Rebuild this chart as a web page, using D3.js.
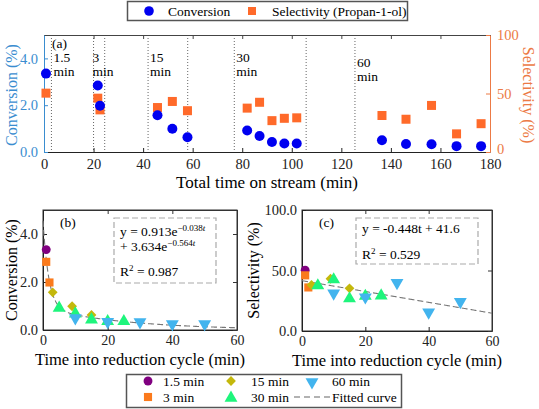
<!DOCTYPE html>
<html><head><meta charset="utf-8">
<script src="https://cdn.jsdelivr.net/npm/d3@7"></script>
<style>
body{margin:0;background:#fff;}
svg text{font-family:"Liberation Serif","DejaVu Serif","Noto Serif",serif !important;}
</style></head>
<body><svg id="c" width="539" height="409"></svg>
<script>
// ---------- data ----------
const cycles = ["1.5 min","3 min","15 min","30 min","60 min"];
const pointCycle = [0,1,1,2,2,2,3,3,3,3,3,4,4,4,4,4];
const totalTime = [0.8,21.7,22.6,45.8,51.8,57.9,82,87,92,97,102,136.4,146.1,156.4,166.5,176.4];
const cycleTime = [1,1,2,3,9,15,5,10,15,20,25,10,20,30,40,50];
const conversion = [3.35,2.84,1.98,1.57,0.99,0.63,0.92,0.68,0.43,0.36,0.36,0.50,0.34,0.33,0.25,0.25];
const selectivity = [50.3,46,36,38,43.2,35.3,37.5,42.5,26.8,28.8,29.2,31.2,28,39.8,15.5,24.2];
const cycleBoundaries = [3,20,24.5,42,58,76.8,105.8,125.5];
const cycleLabels = ["1.5","3","15","30","60"];
const cycleLabelX = [3,20,42,76.8,125.5];
const fitB = {a:0.913,b:-0.038,c:3.634,d:-0.564,r2:"0.987"};
const fitC = {m:-0.448,q:41.6,r2:"0.529"};
const xTicksA = [0,20,40,60,80,100,120,140,160,180];
const xTicksB = [0,20,40,60];

const cycleColors = ["#800080","#fb7a1c","#c4b80c","#1ef57c","#42b4ee"];
const blue = "#0000f0", orange = "#ff6a2a", axBlue = "#3a8dd0", axOrange = "#ec7a45";

const svg = d3.select("#c");

// ---------- panel (a) ----------
const xA = d3.scaleLinear([0,180],[44,490]);
const yA = d3.scaleLinear([0,5],[152,35]);
const yS = d3.scaleLinear([0,100],[152,35]);

function styleAxis(g, col, fs){
  g.attr("font-family",null);
  g.selectAll("text").attr("font-size",fs).attr("fill",col);
  g.selectAll("line").attr("stroke",col);
  g.select(".domain").attr("stroke",col);
}

// dotted lines
svg.append("g").selectAll("line").data(cycleBoundaries).join("line")
  .attr("x1",d=>xA(d)).attr("x2",d=>xA(d)).attr("y1",35).attr("y2",152)
  .attr("stroke","#666").attr("stroke-width",1).attr("stroke-dasharray","1,2");

let g = svg.append("g").attr("transform","translate(0,152)")
  .call(d3.axisBottom(xA).tickValues(xTicksA).tickSize(-4).tickSizeOuter(0).tickPadding(7));
styleAxis(g,"#222",14.5);
g = svg.append("g").attr("transform","translate(0,35)")
  .call(d3.axisTop(xA).tickValues(xTicksA).tickSize(-4).tickSizeOuter(0).tickFormat(""));
styleAxis(g,"#444",14);
g = svg.append("g").attr("transform","translate(44,0)")
  .call(d3.axisLeft(yA).tickValues([0,2,4]).tickFormat(d3.format(".1f")).tickSize(-4).tickSizeOuter(0).tickPadding(6));
styleAxis(g,axBlue,14.5);
g = svg.append("g").attr("transform","translate(490,0)")
  .call(d3.axisRight(yS).tickValues([0,50,100]).tickSize(-4).tickSizeOuter(0).tickPadding(7));
styleAxis(g,axOrange,14.5);
g.selectAll(".tick text").filter(d=>d===0).attr("dy","0.1em");

// cycle labels
cycleLabels.forEach((l,i)=>{
  const x = xA(cycleLabelX[i]) + (i===1? -1 : 2);
  const y0 = i===4 ? 67 : 62;
  svg.append("text").attr("x",x).attr("y",y0).attr("font-size",13.5).text(l);
  svg.append("text").attr("x",x).attr("y",y0+14).attr("font-size",13.5).text("min");
});
svg.append("text").attr("x",52).attr("y",48).attr("font-size",13.5).text("(a)");

const idx = d3.range(totalTime.length);
svg.append("g").selectAll("rect").data(idx).join("rect")
  .attr("x",i=>xA(totalTime[i])-4.5).attr("y",i=>yS(selectivity[i])-4.5)
  .attr("width",9).attr("height",9).attr("fill",orange);
svg.append("g").selectAll("circle").data(idx).join("circle")
  .attr("cx",i=>xA(totalTime[i])).attr("cy",i=>yA(conversion[i])).attr("r",5).attr("fill",blue);

svg.append("text").attr("x",267).attr("y",188).attr("text-anchor","middle").attr("font-size",17)
  .text("Total time on stream (min)");
svg.append("text").attr("transform","translate(17,95) rotate(-90)").attr("text-anchor","middle")
  .attr("font-size",16).attr("fill",axBlue).text("Conversion (%)");
svg.append("text").attr("transform","translate(523,95) rotate(90)").attr("text-anchor","middle")
  .attr("font-size",16).attr("fill",axOrange).text("Selectivity (%)");

// top legend
svg.append("rect").attr("x",127.5).attr("y",1.5).attr("width",280).attr("height",19)
  .attr("fill","#fff").attr("stroke","#555").attr("stroke-width",1.5);
svg.append("circle").attr("cx",149).attr("cy",11).attr("r",4.8).attr("fill",blue);
svg.append("text").attr("x",168).attr("y",15.5).attr("font-size",13.5).text("Conversion");
svg.append("rect").attr("x",248).attr("y",7).attr("width",8).attr("height",8).attr("fill",orange);
svg.append("text").attr("x",272).attr("y",15.5).attr("font-size",13.5).text("Selectivity (Propan-1-ol)");

// ---------- marker helper ----------
function sym(i){
  const types=[d3.symbolCircle,d3.symbolSquare,d3.symbolSquare,d3.symbolTriangle,d3.symbolTriangle];
  const sizes=[62,66,48,72,72];
  return d3.symbol().type(types[i]).size(sizes[i])();
}
function rot(i){ return i===2?45:(i===4?180:0); }

// ---------- panel (b) & (c) ----------
function panel(opts){
  const x = d3.scaleLinear([0,60],[opts.x0,opts.x1]);
  const y = d3.scaleLinear(opts.ydom,[opts.y1,opts.y0]);
  const gg = svg.append("g");
  gg.append("rect").attr("x",opts.x0).attr("y",opts.y0).attr("width",opts.x1-opts.x0).attr("height",opts.y1-opts.y0)
    .attr("fill","none").attr("stroke","#333").attr("stroke-width",1);
  let a = gg.append("g").attr("transform",`translate(0,${opts.y1})`)
    .call(d3.axisBottom(x).tickValues(xTicksB).tickSize(-4).tickSizeOuter(0).tickPadding(5));
  styleAxis(a,"#222",14);
  a = gg.append("g").attr("transform",`translate(0,${opts.y0})`)
    .call(d3.axisTop(x).tickValues(xTicksB).tickSize(-4).tickSizeOuter(0).tickFormat(""));
  styleAxis(a,"#333",14);
  a = gg.append("g").attr("transform",`translate(${opts.x0},0)`)
    .call(d3.axisLeft(y).tickValues(opts.yt).tickFormat(d3.format(".1f")).tickSize(-4).tickSizeOuter(0).tickPadding(5));
  styleAxis(a,"#222",14.5);
  a = gg.append("g").attr("transform",`translate(${opts.x1},0)`)
    .call(d3.axisRight(y).tickValues(opts.yt).tickSize(-4).tickSizeOuter(0).tickFormat(""));
  styleAxis(a,"#333",14);
  // fitted curve
  const ts = d3.range(0,60.01,0.25);
  gg.append("path").datum(ts).attr("fill","none").attr("stroke","#777").attr("stroke-width",1.1)
    .attr("stroke-dasharray","6,3")
    .attr("d",d3.line().x(t=>x(t)).y(t=>y(opts.fit(t))));
  // markers
  gg.append("g").selectAll("path").data(idx).join("path")
    .attr("d",i=>sym(pointCycle[i]))
    .attr("transform",i=>`translate(${x(cycleTime[i])},${y(opts.val[i])}) rotate(${rot(pointCycle[i])})`)
    .attr("fill",i=>cycleColors[pointCycle[i]]);
  gg.append("text").attr("x",opts.x0+17).attr("y",opts.y0+17).attr("font-size",13.5).text(opts.tag);
  gg.append("text").attr("x",(opts.x0+opts.x1)/2).attr("y",opts.y1+35).attr("text-anchor","middle")
    .attr("font-size",16.5).text("Time into reduction cycle (min)");
  gg.append("text").attr("transform",`translate(${opts.ylx},${(opts.y0+opts.y1)/2}) rotate(-90)`)
    .attr("text-anchor","middle").attr("font-size",16).text(opts.ylab);
  return gg;
}

const gb = panel({x0:43,x1:237,y0:210,y1:330,ydom:[0,5],yt:[0,2,4],val:conversion,tag:"(b)",
  ylab:"Conversion (%)",ylx:17,fit:t=>fitB.a*Math.exp(fitB.b*t)+fitB.c*Math.exp(fitB.d*t)});
const gc = panel({x0:302,x1:492,y0:210,y1:331,ydom:[0,100],yt:[0,50,100],val:selectivity,tag:"(c)",
  ylab:"Selectivity (%)",ylx:259,fit:t=>fitC.m*t+fitC.q});

// fit boxes
function box(x,y,w,h){
  svg.append("rect").attr("x",x).attr("y",y).attr("width",w).attr("height",h)
    .attr("fill","#fff").attr("stroke","#aaa").attr("stroke-width",1.2).attr("stroke-dasharray","6,3");
}
box(114,218,102,65);
let t1 = svg.append("text").attr("x",120).attr("y",236).attr("font-size",13.5);
t1.append("tspan").text(`y = ${fitB.a}e`);
t1.append("tspan").attr("dy",-5).attr("font-size",9).text(`\u2212${(-fitB.b).toFixed(3)}`);
t1.append("tspan").attr("font-size",9).attr("font-style","italic").text("t");
let t2 = svg.append("text").attr("x",120).attr("y",251).attr("font-size",13.5);
t2.append("tspan").text(`+ ${fitB.c}e`);
t2.append("tspan").attr("dy",-5).attr("font-size",9).text(`\u2212${(-fitB.d).toFixed(3)}`);
t2.append("tspan").attr("font-size",9).attr("font-style","italic").text("t");
let t3 = svg.append("text").attr("x",120).attr("y",276).attr("font-size",13.5);
t3.append("tspan").text("R");
t3.append("tspan").attr("dy",-5).attr("font-size",9).text("2");
t3.append("tspan").attr("dy",5).text(` = ${fitB.r2}`);

box(356,218,122,46);
svg.append("text").attr("x",362).attr("y",233).attr("font-size",13.5).text(`y = ${fitC.m}t + ${fitC.q}`);
let t4 = svg.append("text").attr("x",362).attr("y",259).attr("font-size",13.5);
t4.append("tspan").text("R");
t4.append("tspan").attr("dy",-5).attr("font-size",9).text("2");
t4.append("tspan").attr("dy",5).text(` = ${fitC.r2}`);

// bottom legend
svg.append("rect").attr("x",126.5).attr("y",374.5).attr("width",275).attr("height",33)
  .attr("fill","#fff").attr("stroke","#555").attr("stroke-width",1.5);
const legPos = [[148,381],[148,397],[231,381],[231,397],[312,381]];
cycles.forEach((c,i)=>{
  const [lx,ly]=legPos[i];
  svg.append("path").attr("d",sym(i)).attr("transform",`translate(${lx},${ly+(i>=3?1:0)}) rotate(${rot(i)})`)
    .attr("fill",cycleColors[i]);
  svg.append("text").attr("x",lx+(i<2?15:20)).attr("y",ly+5).attr("font-size",13.5).text(c);
});
svg.append("line").attr("x1",294).attr("x2",330).attr("y1",397).attr("y2",397)
  .attr("stroke","#666").attr("stroke-width",1.2).attr("stroke-dasharray","6,4");
svg.append("text").attr("x",332).attr("y",402).attr("font-size",13.5).text("Fitted curve");
</script></body></html>
